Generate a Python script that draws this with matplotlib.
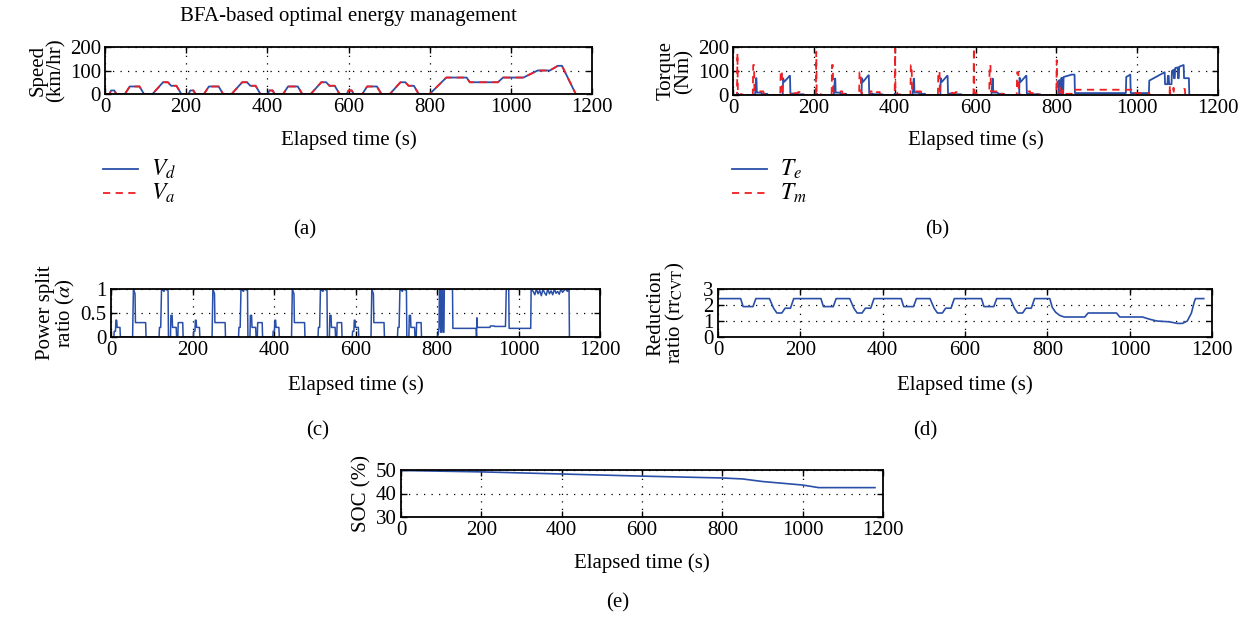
import matplotlib
matplotlib.use("Agg")
import matplotlib.pyplot as plt
from matplotlib.lines import Line2D

# ---------------- data (breakpoints) ----------------
speed_t = [0, 11, 15, 23, 28, 49, 61, 85, 96, 117, 143, 155, 163, 176, 188,
           206, 210, 218, 223, 244, 256, 280, 291, 312, 338, 350, 358, 371, 383,
           401, 405, 413, 418, 439, 451, 475, 486, 507, 533, 545, 553, 566, 578,
           596, 600, 608, 613, 634, 646, 670, 681, 702, 728, 740, 748, 761, 773,
           800, 841, 891, 899, 968, 981, 1031, 1066, 1096, 1116, 1126, 1160, 1180]
speed_v = [0, 0, 15, 15, 0, 0, 32, 32, 0, 0, 50, 50, 35, 35, 0,
           0, 15, 15, 0, 0, 32, 32, 0, 0, 50, 50, 35, 35, 0,
           0, 15, 15, 0, 0, 32, 32, 0, 0, 50, 50, 35, 35, 0,
           0, 15, 15, 0, 0, 32, 32, 0, 0, 50, 50, 35, 35, 0,
           0, 70, 70, 50, 50, 70, 70, 100, 100, 120, 120, 0, 0]

te_t = [0, 9, 10, 13, 14, 54, 55, 57, 58, 59, 70, 71, 85, 86, 123, 124, 127, 140, 141, 142, 150, 151, 175, 176,
        204, 205, 208, 209, 249, 250, 252, 253, 254, 265, 266, 280, 281, 318, 319, 322, 335, 336, 337, 345, 346, 370, 371,
        399, 400, 403, 404, 444, 445, 447, 448, 449, 460, 461, 475, 476, 513, 514, 517, 530, 531, 532, 540, 541, 565, 566,
        594, 595, 598, 599, 639, 640, 642, 643, 644, 655, 656, 670, 671, 708, 709, 712, 725, 726, 727, 735, 736, 760, 761,
        805, 806, 808, 809, 811, 812, 814, 815, 817, 818, 838, 845, 846, 972, 973, 983, 984, 1029, 1030, 1068, 1069,
        1075, 1076, 1078, 1079, 1085, 1086, 1090, 1091, 1093, 1094, 1100, 1101, 1103, 1104, 1115, 1116, 1128, 1129, 1180]
te_v = [0, 0, 5, 5, 0, 0, 10, 70, 70, 10, 10, 5, 5, 0, 0, 70, 55, 80, 80, 6, 6, 3, 3, 0,
        0, 5, 5, 0, 0, 10, 68, 68, 10, 10, 5, 5, 0, 0, 70, 55, 82, 82, 6, 6, 3, 3, 0,
        0, 5, 5, 0, 0, 10, 68, 68, 10, 10, 5, 5, 0, 0, 70, 55, 80, 80, 6, 6, 3, 3, 0,
        0, 5, 5, 0, 0, 10, 68, 68, 10, 10, 5, 5, 0, 0, 72, 55, 80, 80, 6, 6, 3, 3, 0,
        0, 60, 62, 5, 5, 70, 72, 5, 5, 75, 85, 85, 8, 8, 75, 85, 8, 8, 60, 95, 45,
        45, 80, 80, 45, 45, 100, 105, 70, 70, 112, 115, 70, 70, 118, 125, 70, 70, 0, 0]

tm_t = [0, 10, 11, 12, 16, 17, 22, 28, 49, 50, 52, 53, 68, 69, 75, 76, 85, 86, 117, 118, 121, 122, 124, 125,
        143, 144, 150, 151, 160, 161, 168, 169,
        205, 206, 207, 211, 212, 217, 223, 244, 245, 247, 248, 263, 264, 270, 271, 280, 281, 312, 313, 316, 317, 319, 320,
        338, 339, 345, 346, 355, 356, 363, 364,
        400, 401, 402, 406, 407, 412, 418, 439, 440, 442, 443, 458, 459, 465, 466, 475, 476, 507, 508, 511, 512, 514, 515,
        533, 534, 540, 541, 550, 551, 558, 559,
        595, 596, 597, 601, 602, 607, 613, 634, 635, 637, 638, 653, 654, 660, 661, 670, 671, 702, 703, 706, 707, 709, 710,
        728, 729, 735, 736, 745, 746, 753, 754,
        800, 801, 803, 808, 809, 811, 815, 816, 820, 822, 845, 846, 990, 991, 1030, 1031,
        1080, 1081, 1082, 1089, 1090, 1091, 1115, 1116, 1118, 1119, 1180]
tm_v = [0, 0, 175, 10, 10, 3, 3, 0, 0, 125, 125, 15, 15, 15, 15, 5, 5, 0, 0, 100, 100, 10, 10, 0,
        0, 15, 15, 8, 8, 12, 12, 0,
        0, 180, 10, 10, 3, 3, 0, 0, 125, 125, 15, 15, 15, 15, 5, 5, 0, 0, 95, 95, 10, 10, 0,
        0, 15, 15, 8, 8, 12, 12, 0,
        0, 195, 10, 10, 3, 3, 0, 0, 125, 125, 15, 15, 15, 15, 5, 5, 0, 0, 98, 98, 10, 10, 0,
        0, 15, 15, 8, 8, 12, 12, 0,
        0, 195, 10, 10, 3, 3, 0, 0, 125, 125, 15, 15, 15, 15, 5, 5, 0, 0, 95, 95, 10, 10, 0,
        0, 15, 15, 8, 8, 12, 12, 0,
        0, 145, 10, 10, 30, 5, 20, 5, 15, 5, 5, 22, 22, 8, 8, 0,
        0, 40, 0, 0, 30, 0, 0, 25, 25, 0, 0]

alpha_t = [0, 7, 8, 11, 12, 14, 15, 22, 23, 53, 55, 57, 59, 60, 85, 86, 118, 119, 122, 124, 130, 132, 140, 141,
           146, 147, 150, 151, 160, 161, 164, 165, 176, 177,
           202, 203, 206, 207, 209, 210, 217, 218, 248, 250, 252, 254, 255, 280, 281, 313, 314, 317, 319, 325, 327, 335, 336,
           341, 342, 345, 346, 355, 356, 359, 360, 371, 372,
           397, 398, 401, 402, 404, 405, 412, 413, 443, 445, 447, 449, 450, 475, 476, 508, 509, 512, 514, 520, 522, 530, 531,
           536, 537, 540, 541, 550, 551, 554, 555, 566, 567,
           592, 593, 596, 597, 599, 600, 607, 608, 638, 640, 642, 644, 645, 670, 671, 703, 704, 707, 709, 715, 717, 725, 726,
           731, 732, 735, 736, 745, 746, 749, 750, 761, 762,
           800, 803, 805, 806, 808, 809, 811, 812, 814, 815, 817, 818, 838, 839, 896, 897, 898, 899, 930, 931, 940, 941,
           968, 970, 976, 977, 1030, 1031, 1036, 1040, 1044, 1048, 1052, 1056, 1060, 1064, 1068, 1072, 1076, 1080,
           1084, 1088, 1092, 1096, 1100, 1104, 1108, 1112, 1116, 1120, 1124, 1125, 1180]
alpha_v = [0, 0, 0.12, 0.12, 0.35, 0.35, 0.2, 0.2, 0, 0, 1.0, 0.95, 0.9, 0.3, 0.3, 0, 0, 0.2, 0.2, 1.0, 0.95, 1.0, 0.97, 0,
           0, 0.45, 0.45, 0.2, 0.2, 0, 0, 0.3, 0.3, 0,
           0, 0.12, 0.12, 0.35, 0.35, 0.2, 0.2, 0, 0, 1.0, 0.95, 0.9, 0.3, 0.3, 0, 0, 0.2, 0.2, 1.0, 0.95, 1.0, 0.97, 0,
           0, 0.45, 0.45, 0.2, 0.2, 0, 0, 0.3, 0.3, 0,
           0, 0.12, 0.12, 0.35, 0.35, 0.2, 0.2, 0, 0, 1.0, 0.95, 0.9, 0.3, 0.3, 0, 0, 0.2, 0.2, 1.0, 0.95, 1.0, 0.97, 0,
           0, 0.45, 0.45, 0.2, 0.2, 0, 0, 0.3, 0.3, 0,
           0, 0.12, 0.12, 0.35, 0.35, 0.2, 0.2, 0, 0, 1.0, 0.95, 0.9, 0.3, 0.3, 0, 0, 0.2, 0.2, 1.0, 0.95, 1.0, 0.97, 0,
           0, 0.45, 0.45, 0.2, 0.2, 0, 0, 0.3, 0.3, 0,
           0, 0.05, 0.2, 1.0, 1.0, 0.1, 0.1, 1.0, 1.0, 0.1, 0.1, 1.0, 1.0, 0.18, 0.18, 0.0, 0.4, 0.2, 0.2, 0.23, 0.23, 0.22,
           0.22, 1.0, 1.0, 0.18, 0.18, 1.0, 0.95, 0.88, 1.0, 0.9, 0.97, 0.86, 1.0, 0.92, 0.87, 1.0, 0.9, 0.96,
           0.88, 1.0, 0.91, 0.95, 0.89, 1.0, 0.93, 0.97, 1.0, 0.95, 1.0, 0, 0]

rr_t = [0, 55, 61, 85, 92, 125, 135, 143, 155, 163, 176, 184,
        250, 256, 280, 287, 320, 330, 338, 350, 358, 371, 379,
        445, 451, 475, 482, 515, 525, 533, 545, 553, 566, 574,
        640, 646, 670, 677, 710, 720, 728, 740, 748, 761, 769,
        806, 812, 820, 830, 841, 891, 899, 968, 976, 1031, 1050, 1066, 1096, 1116, 1128, 1140, 1150, 1157, 1160, 1180]
rr_v = [2.4, 2.4, 1.9, 1.9, 2.4, 2.4, 1.8, 1.5, 1.5, 1.8, 1.8, 2.4,
        2.4, 1.9, 1.9, 2.4, 2.4, 1.8, 1.5, 1.5, 1.8, 1.8, 2.4,
        2.4, 1.9, 1.9, 2.4, 2.4, 1.8, 1.5, 1.5, 1.8, 1.8, 2.4,
        2.4, 1.9, 1.9, 2.4, 2.4, 1.8, 1.5, 1.5, 1.8, 1.8, 2.4,
        2.4, 1.85, 1.55, 1.35, 1.25, 1.25, 1.5, 1.5, 1.25, 1.25, 1.1, 1.0, 0.95, 0.85, 0.85, 1.0, 1.5, 2.2, 2.4, 2.4]

soc_t = [0, 200, 400, 600, 800, 850, 900, 1000, 1040, 1180]
soc_v = [49.8, 49.2, 48.3, 47.4, 46.6, 46.2, 45.1, 43.6, 42.5, 42.5]

xticks = [0, 200, 400, 600, 800, 1000, 1200]

# ---------------- style ----------------
plt.rcParams['font.family'] = ['Liberation Serif', 'DejaVu Serif']
plt.rcParams['mathtext.fontset'] = 'stix'
FS = 15
BLUE = '#2a4fa8'
RED = '#ee2024'
DASH = (0, (4, 3))

W, H = 1251, 618
fig = plt.figure(figsize=(W / 100, H / 100), dpi=100)


def add_axes(x0, x1, y0, y1):
    return fig.add_axes([x0 / W, 1 - y1 / H, (x1 - x0) / W, (y1 - y0) / H])


def style(ax, ylim, yticks, ylabel, xlab_y, labelpad=3):
    ax.set_xlim(0, 1200)
    ax.set_ylim(*ylim)
    ax.set_xticks(xticks)
    ax.set_yticks(yticks)
    ax.tick_params(direction='in', length=4, width=1, labelsize=FS, pad=3,
                   top=True, right=True)
    for s in ax.spines.values():
        s.set_linewidth(1.3)
    ax.grid(True, color='black', linestyle=(0, (1, 5)), linewidth=0.9)
    ax.set_axisbelow(True)
    ax.set_ylabel(ylabel, fontsize=FS, labelpad=labelpad, linespacing=0.9)
    pos = ax.get_position()
    fig.text(pos.x0 + pos.width / 2, 1 - xlab_y / H, 'Elapsed time (s)',
             ha='center', va='center', fontsize=FS)


# (a) speed
axa = add_axes(105, 592, 47, 94)
axa.plot(speed_t, speed_v, color=BLUE, lw=1.3)
axa.plot(speed_t, speed_v, color=RED, lw=1.3, ls=DASH)
style(axa, (0, 200), [0, 100, 200], 'Speed\n(km/hr)', 140)
fig.text(348 / W, 1 - 17 / H, 'BFA-based optimal energy management',
         ha='center', va='center', fontsize=FS)

# (b) torque
axb = add_axes(733, 1218, 47, 95)
axb.plot(te_t, te_v, color=BLUE, lw=1.3)
axb.plot(tm_t, tm_v, color=RED, lw=1.3, ls=DASH)
style(axb, (0, 200), [0, 100, 200], 'Torque\n(Nm)', 140)

# (c) power split
axc = add_axes(111, 600, 289, 337)
axc.plot(alpha_t, alpha_v, color=BLUE, lw=1.1)
style(axc, (0, 1), [0, 0.5, 1], 'Power split\nratio ($\\alpha$)', 385)
axc.set_yticklabels(['0', '0.5', '1'])

# (d) reduction ratio
axd = add_axes(718, 1212, 289, 337)
axd.plot(rr_t, rr_v, color=BLUE, lw=1.2)
style(axd, (0, 3), [0, 1, 2, 3], 'Reduction\nratio (rr$_{\\mathrm{CVT}}$)', 385,
      labelpad=12)

# (e) SOC
axe = add_axes(401, 883, 470, 517)
axe.plot(soc_t, soc_v, color=BLUE, lw=1.2)
style(axe, (30, 50), [30, 40, 50], 'SOC (%)', 563)


# legends
def legend(x0, ys, labels, styles):
    for y, lab, (c, ls) in zip(ys, labels, styles):
        fig.add_artist(Line2D([x0 / W, (x0 + 35) / W], [1 - y / H, 1 - y / H],
                              color=c, ls=ls, lw=1.3))
        fig.text((x0 + 48) / W, 1 - y / H, lab, ha='left', va='center', fontsize=17)


legend(103, [169, 193], ['$V_d$', '$V_a$'], [(BLUE, '-'), (RED, DASH)])
legend(732, [169, 193], ['$T_e$', '$T_m$'], [(BLUE, '-'), (RED, DASH)])

# captions
for x, y, t in [(305, 230, '(a)'), (937, 230, '(b)'), (318, 431, '(c)'),
                (925, 431, '(d)'), (618, 603, '(e)')]:
    fig.text(x / W, 1 - y / H, t, ha='center', va='center', fontsize=FS)

fig.savefig('out.png', dpi=100)
